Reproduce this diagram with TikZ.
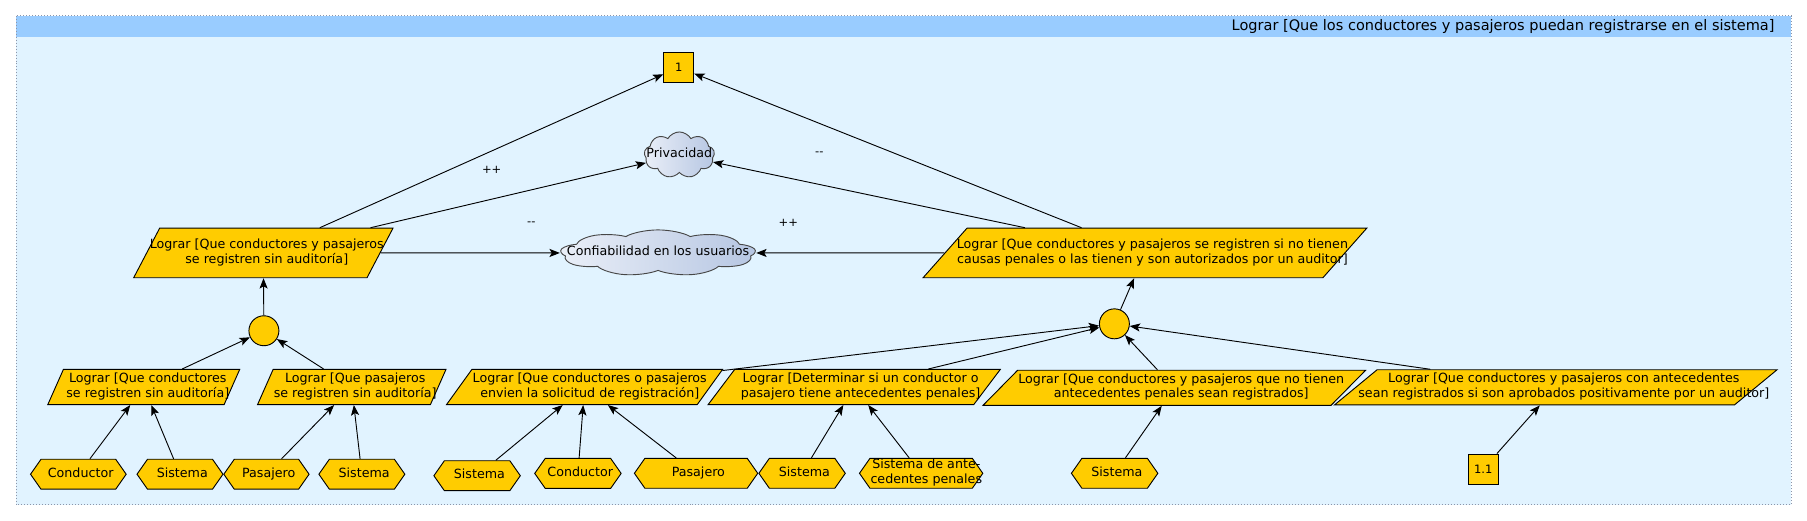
\documentclass[tikz,border=0pt]{standalone}
\usepackage{fontspec}
\setmainfont{DejaVu Sans}
\usetikzlibrary{shapes.geometric,shapes.symbols,arrows.meta}
\definecolor{goalc}{RGB}{255,204,0}
\definecolor{framec}{RGB}{225,243,255}
\definecolor{headc}{RGB}{153,204,255}
\definecolor{cloudl}{RGB}{234,239,248}
\definecolor{cloudr}{RGB}{182,198,226}
\definecolor{cloudb}{RGB}{70,70,70}
\definecolor{borderc}{RGB}{140,150,170}
\newcommand{\tl}[2][0pt]{\makebox[0pt]{\hspace*{#1}\begin{tabular}{@{}c@{}}#2\end{tabular}}}
\tikzset{
  base/.style={font=\fontsize{11}{12.6}\selectfont, inner sep=0pt, text=black},
  goal/.style={base, trapezium, draw, fill=goalc, line width=0.8pt, minimum height=30.5pt, trapezium stretches body},
  bigoal/.style={goal, minimum height=43pt},
  cloudn/.style={base, cloud, cloud puffs=9, cloud puff arc=120, cloud ignores aspect, draw=cloudb, line width=0.8pt, left color=cloudl, right color=cloudr},
  hexn/.style={base, signal, signal to=west and east, signal pointer angle=110, draw, fill=goalc, line width=0.8pt, minimum height=26pt},
  andn/.style={circle, draw, fill=goalc, line width=0.8pt, minimum size=26pt, inner sep=0pt},
  sqn/.style={base, rectangle, draw, fill=goalc, line width=0.8pt, minimum size=26pt, font=\fontsize{10}{12}\selectfont},
  lab/.style={base, font=\fontsize{10}{12}\selectfont},
  arr/.style={draw, line width=0.8pt, -{Stealth[length=9pt,width=7pt,inset=2pt]}}
}
\begin{document}
\begin{tikzpicture}[x=1pt,y=-1pt]
\useasboundingbox (0,0) rectangle (1568,452);
\fill[framec] (14,13.5) rectangle (1554.5,438);
\fill[headc] (14,13.5) rectangle (1554.5,32);
\draw[borderc, dotted, line width=0.6pt] (14,13.5) rectangle (1554.5,438);
\node[base, anchor=east, font=\fontsize{12.6}{14}\selectfont] (title) at (1540,23) {Lograr [Que los conductores y pasajeros puedan registrarse en el sistema]};

% top
\node[sqn] (sq1) at (589,58.5) {1};
\node[cloudn, minimum width=61pt, minimum height=40pt] (priv) at (589.5,134.5) {\tl{Privacidad}};
\begin{scope}[shift={(571,219.5)}, xscale=2.787]
  \node[cloudn, transform shape, minimum width=61pt, minimum height=40pt] (confbg) at (0,0) {};
\end{scope}
\node[base, ellipse, minimum width=170pt, minimum height=40pt] (conf) at (571,219.5) {\tl{Confiabilidad en los usuarios}};

\node[bigoal, minimum width=225pt, trapezium left angle=48.2, trapezium right angle=131.8] (g1) at (228.5,219.5) {\tl[6pt]{Lograr [Que conductores y pasajeros\\se registren sin auditoría]}};
\node[bigoal, minimum width=385pt, trapezium left angle=33.5, trapezium right angle=146.5] (g2) at (993.5,219.5) {\tl[13pt]{Lograr [Que conductores y pasajeros se registren si no tienen\\causas penales o las tienen y son autorizados por un auditor]}};

\node[lab] (pp1) at (426.7,147) {++};
\node[lab] (mm1) at (461,194.4) {-{}-};
\node[lab] (mm2) at (711,133.6) {-{}-};
\node[lab] (pp2) at (684,193.8) {++};

% AND nodes
\node[andn] (and1) at (229,287) {};
\node[andn] (and2) at (967,281) {};

% level 3
\node[goal, minimum width=166.5pt, trapezium left angle=61.8, trapezium right angle=118.2] (l1) at (124.75,335.8) {\tl[7pt]{Lograr [Que conductores\\se registren sin auditoría]}};
\node[goal, minimum width=163.5pt, trapezium left angle=61.8, trapezium right angle=118.2] (l2) at (305.25,335.8) {\tl[6pt]{Lograr [Que pasajeros\\se registren sin auditoría]}};
\node[goal, minimum width=239.5pt, trapezium left angle=48.9, trapezium right angle=131.1] (l3) at (507.25,335.8) {\tl[9pt]{Lograr [Que conductores o pasajeros\\envien la solicitud de registración]}};
\node[goal, minimum width=253.5pt, trapezium left angle=47.6, trapezium right angle=132.4] (l4) at (741.25,335.8) {\tl[11pt]{Lograr [Determinar si un conductor o\\pasajero tiene antecedentes penales]}};
\node[goal, minimum width=332pt, trapezium left angle=40, trapezium right angle=140] (l5) at (1019,336.5) {\tl[12pt]{Lograr [Que conductores y pasajeros que no tienen\\antecedentes penales sean registrados]}};
\node[goal, minimum width=384pt, trapezium left angle=34.3, trapezium right angle=145.7] (l6) at (1350,336.1) {\tl[14pt]{Lograr [Que conductores y pasajeros con antecedentes\\sean registrados si son aprobados positivamente por un auditor]}};

% leaves
\node[hexn, minimum width=83pt] (c1) at (68,411.5) {\tl[4pt]{Conductor}};
\node[hexn, minimum width=74.6pt] (s1) at (156.2,411.5) {\tl[4pt]{Sistema}};
\node[hexn, minimum width=74pt] (p1) at (231.2,411.5) {\tl[4pt]{Pasajero}};
\node[hexn, minimum width=74.6pt] (s2) at (314,411.5) {\tl[4pt]{Sistema}};
\node[hexn, minimum width=75pt] (s3) at (414,412.8) {\tl[4pt]{Sistema}};
\node[hexn, minimum width=75pt] (c2) at (501.5,410.8) {\tl[4pt]{Conductor}};
\node[hexn, minimum width=107pt] (p2) at (604,410.7) {\tl[4pt]{Pasajero}};
\node[hexn, minimum width=75pt] (s4) at (696,410.7) {\tl[4pt]{Sistema}};
\node[hexn, minimum width=107pt] (sa) at (799.3,410.7) {\tl[9pt]{Sistema de ante-\\cedentes penales}};
\node[hexn, minimum width=75pt] (s5) at (967.2,410.7) {\tl[4pt]{Sistema}};
\node[sqn] (sq11) at (1287,407) {1.1};

% edges
\draw[arr] (g1) -- (sq1);
\draw[arr] (g1) -- (priv);
\draw[arr] (g1) -- (conf);
\draw[arr] (g2) -- (priv);
\draw[arr] (g2) -- (sq1);
\draw[arr] (g2) -- (conf);
\draw[arr] (and1) -- (g1);
\draw[arr] (l1) -- (and1);
\draw[arr] (l2) -- (and1);
\draw[arr] (and2) -- (g2);
\draw[arr] (l3) -- (and2);
\draw[arr] (l4) -- (and2);
\draw[arr] (l5) -- (and2);
\draw[arr] (l6) -- (and2);
\draw[arr] (c1) -- (l1);
\draw[arr] (s1) -- (l1);
\draw[arr] (p1) -- (l2);
\draw[arr] (s2) -- (l2);
\draw[arr] (s3) -- (l3);
\draw[arr] (c2) -- (l3);
\draw[arr] (p2) -- (l3);
\draw[arr] (s4) -- (l4);
\draw[arr] (sa) -- (l4);
\draw[arr] (s5) -- (l5);
\draw[arr] (sq11) -- (l6);
\end{tikzpicture}
\end{document}
